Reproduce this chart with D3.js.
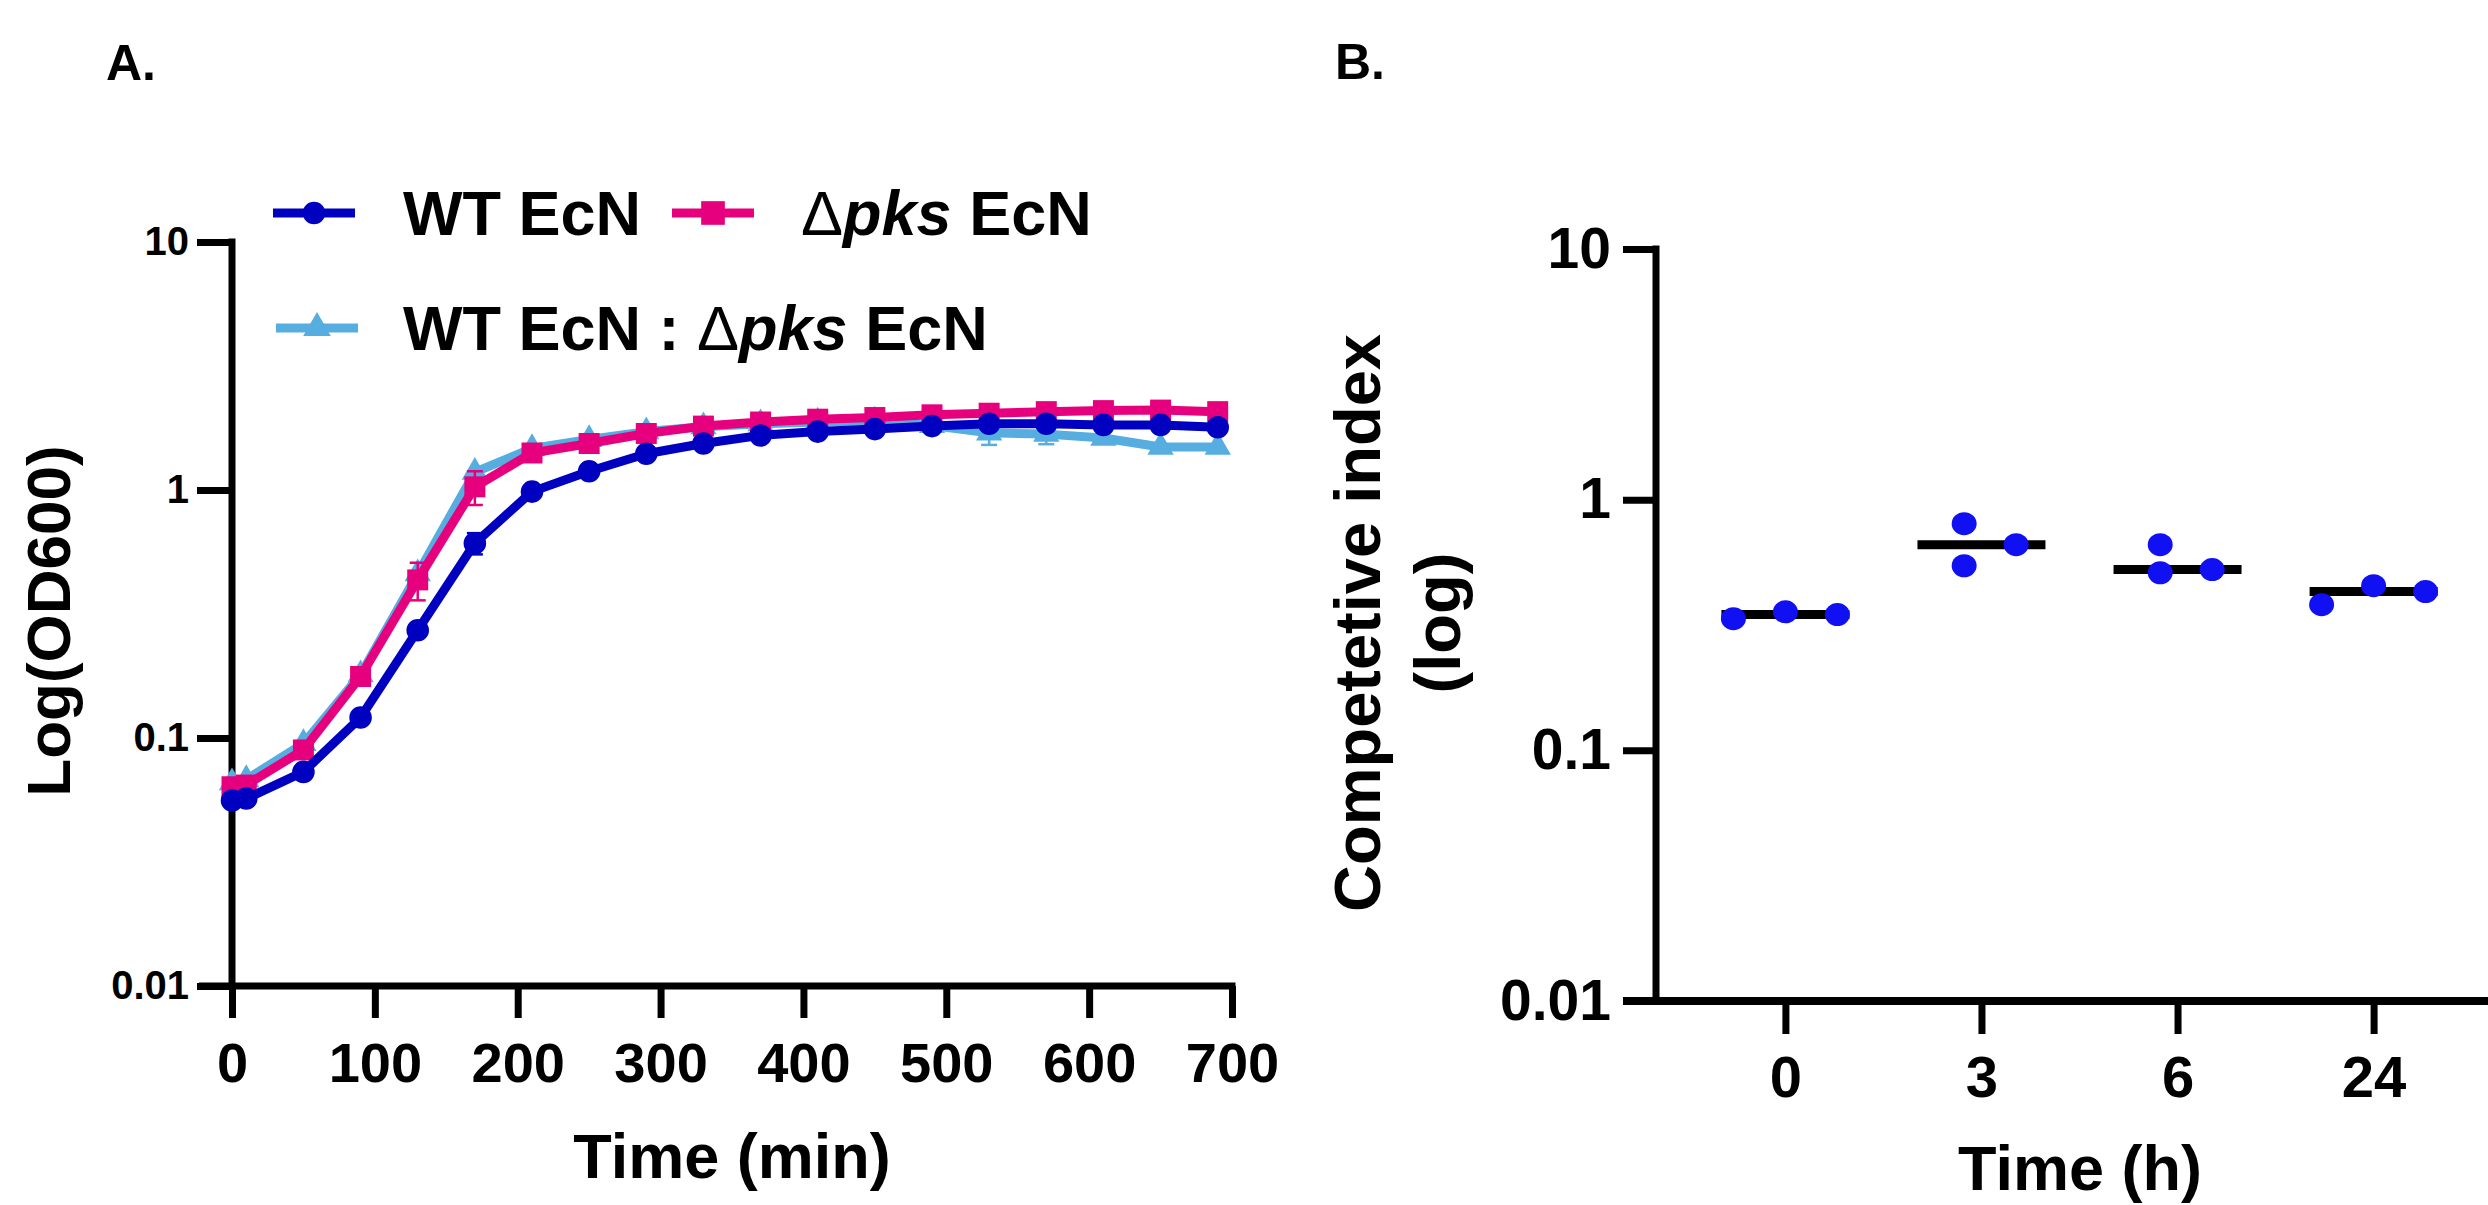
<!DOCTYPE html>
<html>
<head>
<meta charset="utf-8">
<script src="https://cdn.jsdelivr.net/npm/d3@7"></script>
<style>
  body { margin: 0; background: #fff; }
  text { font-family: 'Liberation Sans', Arial, sans-serif; font-weight: bold; fill: #000; }
</style>
</head>
<body>
<svg id="chart" width="2488" height="1205"></svg>
<script>
// ---- panel A: growth curves ----
const times = [0, 10, 50, 90, 130, 170, 210, 250, 290, 330, 370, 410, 450, 490, 530, 570, 610, 650, 690]
const wtEcN = [0.056, 0.057, 0.073, 0.121, 0.272, 0.61, 0.985, 1.19, 1.40, 1.54, 1.66, 1.72, 1.76, 1.81, 1.85, 1.85, 1.83, 1.83, 1.79]
const wtSD = [0, 0, 0, 0, 0, 0.06, 0, 0, 0, 0, 0, 0, 0, 0, 0, 0, 0, 0, 0]
const pksEcN = [0.0636, 0.0646, 0.0895, 0.177, 0.434, 1.03, 1.41, 1.54, 1.69, 1.81, 1.88, 1.93, 1.96, 2.01, 2.04, 2.07, 2.09, 2.10, 2.07]
const pksSD = [0, 0, 0, 0, 0.075, 0.16, 0, 0, 0, 0, 0, 0, 0, 0, 0, 0, 0, 0, 0]
const mixEcN = [0.066, 0.068, 0.095, 0.18, 0.46, 1.18, 1.47, 1.60, 1.72, 1.80, 1.85, 1.88, 1.90, 1.82, 1.70, 1.68, 1.62, 1.49, 1.49]
const mixSD = [0, 0, 0, 0, 0, 0, 0, 0, 0, 0, 0, 0, 0, 0, 0.18, 0.15, 0, 0, 0]
const timeTicksA = [0, 100, 200, 300, 400, 500, 600, 700]
const odTicks = [0.01, 0.1, 1, 10]

// ---- panel B: competitive index ----
const hours = ['0', '3', '6', '24']
const ciValues = [
  [0.335, 0.357, 0.348],
  [0.802, 0.545, 0.661],
  [0.511, 0.661, 0.526],
  [0.381, 0.454, 0.430]
]
const ciTicks = [0.01, 0.1, 1, 10]

const BLUE = '#0000c0'
const PINK = '#e6007e'
const SKY = '#56ade0'
const DOT = '#1010f2'

const svg = d3.select('#chart')

// Scales
let xA = d3.scaleLinear().domain([0, 700]).range([232, 1232])
let yA = d3.scaleLog().domain([0.01, 10]).range([986, 242])
let xB = d3.scalePoint().domain(hours).range([1656, 2503]).padding(0.66)
let yB = d3.scaleLog().domain([0.01, 10]).range([1001, 249])

function styleAxis(g, fontSize) {
  g.select('.domain').remove()
  g.selectAll('.tick line').attr('stroke', '#000').attr('stroke-width', 7)
  g.selectAll('.tick text').style('font-size', fontSize + 'px').attr('fill', '#000')
}

// Panel labels
svg.append('text').attr('x', 106).attr('y', 80).style('font-size', '50px').text('A.')
svg.append('text').attr('x', 1335).attr('y', 79).style('font-size', '50px').text('B.')

// ===== Panel A =====
let gA = svg.append('g')

// axis lines
gA.append('line').attr('x1', 232).attr('x2', 232).attr('y1', 242 - 3.5).attr('y2', 986)
  .attr('stroke', '#000').attr('stroke-width', 7)
gA.append('line').attr('x1', 199).attr('x2', 1232 + 3.5).attr('y1', 986).attr('y2', 986)
  .attr('stroke', '#000').attr('stroke-width', 7)

gA.append('g')
  .attr('transform', 'translate(0,986)')
  .call(d3.axisBottom(xA).tickValues(timeTicksA).tickSize(32).tickPadding(24).tickFormat(d3.format('d')))
  .call(g => styleAxis(g, 56))

gA.append('g')
  .attr('transform', 'translate(232,0)')
  .call(d3.axisLeft(yA).tickValues(odTicks).tickSize(35).tickPadding(8).tickFormat(d => String(d)))
  .call(g => styleAxis(g, 40))

gA.append('text')
  .attr('transform', 'translate(70,621) rotate(-90)')
  .attr('text-anchor', 'middle')
  .style('font-size', '62px')
  .text('Log(OD600)')

gA.append('text')
  .attr('x', 732).attr('y', 1178)
  .attr('text-anchor', 'middle')
  .style('font-size', '63px')
  .text('Time (min)')

// series, drawn back to front
let seriesA = [
  { name: 'mix', values: mixEcN, sd: mixSD, color: SKY, symbol: d3.symbolTriangle, size: 300 },
  { name: 'pks', values: pksEcN, sd: pksSD, color: PINK, symbol: d3.symbolSquare, size: 440 },
  { name: 'wt', values: wtEcN, sd: wtSD, color: BLUE, symbol: d3.symbolCircle, size: 400 }
]

let line = d3.line().x(d => xA(d.t)).y(d => yA(d.v))

seriesA.forEach(s => {
  let pts = times.map((t, i) => ({ t, v: s.values[i], sd: s.sd[i] }))
  let g = gA.append('g').attr('class', 'series-' + s.name)

  // error bars
  let eb = g.selectAll('g.err').data(pts.filter(d => d.sd > 0)).enter().append('g').attr('class', 'err')
  eb.append('line')
    .attr('x1', d => xA(d.t)).attr('x2', d => xA(d.t))
    .attr('y1', d => yA(d.v + d.sd)).attr('y2', d => yA(d.v - d.sd))
    .attr('stroke', s.color).attr('stroke-width', 2.5)
  ;[1, -1].forEach(sign => {
    eb.append('line')
      .attr('x1', d => xA(d.t) - 8).attr('x2', d => xA(d.t) + 8)
      .attr('y1', d => yA(d.v + sign * d.sd)).attr('y2', d => yA(d.v + sign * d.sd))
      .attr('stroke', s.color).attr('stroke-width', 2.5)
  })

  g.append('path')
    .datum(pts)
    .attr('d', line)
    .attr('fill', 'none')
    .attr('stroke', s.color)
    .attr('stroke-width', 9)
    .attr('stroke-linejoin', 'round')

  g.selectAll('path.mark').data(pts).enter().append('path')
    .attr('class', 'mark')
    .attr('transform', d => `translate(${xA(d.t)},${yA(d.v)})`)
    .attr('d', d3.symbol().type(s.symbol).size(s.size))
    .attr('fill', s.color)
})

// Legend
let legendItems = [
  { x: 273, y: 213, color: BLUE, symbol: d3.symbolCircle, size: 400, parts: [['WT EcN', 'normal', 'bold']], tx: 403 },
  { x: 672, y: 213, color: PINK, symbol: d3.symbolSquare, size: 560, parts: [['\u0394', 'normal', 'normal'], ['pks', 'italic', 'bold'], [' EcN', 'normal', 'bold']], tx: 801 },
  { x: 276, y: 328, color: SKY, symbol: d3.symbolTriangle, size: 330, parts: [['WT EcN : ', 'normal', 'bold'], ['\u0394', 'normal', 'normal'], ['pks', 'italic', 'bold'], [' EcN', 'normal', 'bold']], tx: 403 }
]

let leg = gA.append('g').attr('class', 'legend')
legendItems.forEach(it => {
  leg.append('line')
    .attr('x1', it.x).attr('x2', it.x + 82).attr('y1', it.y).attr('y2', it.y)
    .attr('stroke', it.color).attr('stroke-width', 9)
  leg.append('path')
    .attr('transform', `translate(${it.x + 41},${it.y})`)
    .attr('d', d3.symbol().type(it.symbol).size(it.size))
    .attr('fill', it.color)
  let t = leg.append('text').attr('x', it.tx).attr('y', it.y + 22).style('font-size', '63px')
  it.parts.forEach(p => {
    t.append('tspan').style('font-style', p[1]).style('font-weight', p[2]).text(p[0])
  })
})

// ===== Panel B =====
let gB = svg.append('g')

gB.append('line').attr('x1', 1656).attr('x2', 1656).attr('y1', 249 - 3.5).attr('y2', 1001)
  .attr('stroke', '#000').attr('stroke-width', 7)
gB.append('line').attr('x1', 1623).attr('x2', 2503).attr('y1', 1001).attr('y2', 1001)
  .attr('stroke', '#000').attr('stroke-width', 8)

gB.append('g')
  .attr('transform', 'translate(0,1001)')
  .call(d3.axisBottom(xB).tickSize(33).tickPadding(22))
  .call(g => styleAxis(g, 58))

gB.append('g')
  .attr('transform', 'translate(1656,0)')
  .call(d3.axisLeft(yB).tickValues(ciTicks).tickSize(33).tickPadding(12).tickFormat(d => String(d)))
  .call(g => styleAxis(g, 57))

gB.append('text')
  .attr('transform', 'translate(1380,623) rotate(-90)')
  .attr('text-anchor', 'middle')
  .style('font-size', '65px')
  .text('Competetive index')
gB.append('text')
  .attr('transform', 'translate(1460,623) rotate(-90)')
  .attr('text-anchor', 'middle')
  .style('font-size', '65px')
  .text('(log)')

gB.append('text')
  .attr('x', 2080).attr('y', 1190)
  .attr('text-anchor', 'middle')
  .style('font-size', '63px')
  .text('Time (h)')

// spread overlapping points sideways, like a column scatter
function dodge(vals) {
  let pts = vals.map(v => ({ v, y: yB(v), dx: 0 }))
  let placed = []
  let cands = [0, 26, -26, 52, -52, 78, -78]
  pts.slice().sort((a, b) => a.y - b.y).forEach(p => {
    p.dx = cands.find(c => placed.every(q => Math.abs(q.y - p.y) >= 26 || Math.abs(q.dx - c) >= 52))
    placed.push(p)
  })
  let m = d3.mean(pts, p => p.dx)
  pts.forEach(p => { p.dx -= m })
  return pts
}

hours.forEach((h, i) => {
  let vals = ciValues[i]
  let cx = xB(h)
  let g = gB.append('g').attr('class', 'group')
  let med = d3.median(vals)
  g.append('line')
    .attr('x1', cx - 64).attr('x2', cx + 64)
    .attr('y1', yB(med)).attr('y2', yB(med))
    .attr('stroke', '#000').attr('stroke-width', 9)
  g.selectAll('ellipse').data(dodge(vals)).enter().append('ellipse')
    .attr('cx', d => cx + d.dx)
    .attr('cy', d => d.y)
    .attr('rx', 12.5).attr('ry', 11.5)
    .attr('fill', DOT)
})
</script>
</body>
</html>
